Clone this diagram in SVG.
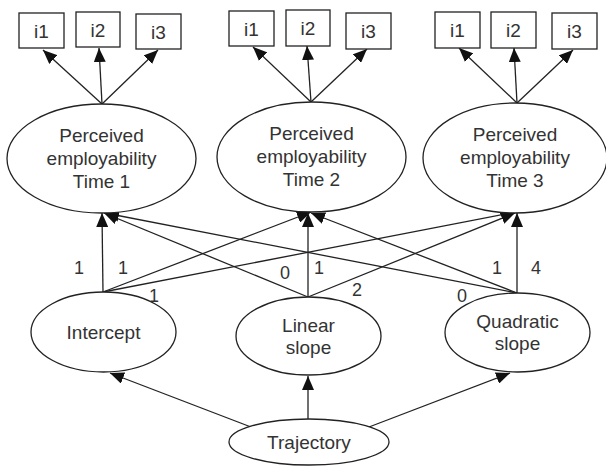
<svg xmlns="http://www.w3.org/2000/svg" width="606" height="466" viewBox="0 0 606 466">
<style>
.n{fill:#fff;stroke:#222;stroke-width:1.3}
.t{font-family:"Liberation Sans",Arial,sans-serif;font-size:19px;fill:#333;text-anchor:middle;dominant-baseline:central}
.l{font-family:"Liberation Sans",Arial,sans-serif;font-size:18px;fill:#333;text-anchor:middle;dominant-baseline:central}
.c line{stroke:#222;stroke-width:1.3;marker-end:url(#a)}
</style>
<defs>
<marker id="a" markerUnits="userSpaceOnUse" markerWidth="15" markerHeight="12" viewBox="0 0 15 12" refX="14" refY="6" orient="auto">
<path d="M0,0 L14,6 L0,12 Z" fill="#111"/>
</marker>
</defs>
<g class="c" id="connectors">
<line x1="102" y1="104" x2="43" y2="50"/>
<line x1="102" y1="104" x2="99" y2="48"/>
<line x1="102" y1="104" x2="158" y2="50"/>
<line x1="311" y1="102" x2="253" y2="47"/>
<line x1="311" y1="102" x2="307" y2="46"/>
<line x1="311" y1="102" x2="367" y2="49"/>
<line x1="517" y1="103" x2="459" y2="48"/>
<line x1="517" y1="103" x2="514" y2="48"/>
<line x1="517" y1="103" x2="573" y2="50"/>
<line x1="103" y1="292" x2="102" y2="213"/>
<line x1="103" y1="292" x2="311" y2="212"/>
<line x1="103" y1="292" x2="516" y2="212"/>
<line x1="308" y1="297" x2="104" y2="213"/>
<line x1="308" y1="297" x2="308" y2="213"/>
<line x1="308" y1="297" x2="515" y2="213"/>
<line x1="517" y1="293" x2="105" y2="213"/>
<line x1="517" y1="293" x2="311" y2="213"/>
<line x1="517" y1="293" x2="517" y2="213"/>
<line x1="251" y1="427" x2="110" y2="373"/>
<line x1="308" y1="420" x2="308" y2="376"/>
<line x1="369" y1="427" x2="510" y2="373"/>
</g>
<g id="box-1-i1"><rect class="n" x="19" y="13" width="45" height="35"/><text class="t" x="41.5" y="31">i1</text></g>
<g id="box-1-i2"><rect class="n" x="76" y="12" width="44" height="35"/><text class="t" x="98" y="30">i2</text></g>
<g id="box-1-i3"><rect class="n" x="136" y="14" width="45" height="35"/><text class="t" x="158.5" y="32">i3</text></g>
<g id="box-2-i1"><rect class="n" x="229" y="11" width="45" height="35"/><text class="t" x="251.5" y="29">i1</text></g>
<g id="box-2-i2"><rect class="n" x="286" y="10" width="44" height="36"/><text class="t" x="308" y="28">i2</text></g>
<g id="box-2-i3"><rect class="n" x="346" y="13" width="45" height="36"/><text class="t" x="368.5" y="31">i3</text></g>
<g id="box-3-i1"><rect class="n" x="435" y="12" width="45" height="36"/><text class="t" x="457.5" y="30">i1</text></g>
<g id="box-3-i2"><rect class="n" x="491" y="12" width="45" height="36"/><text class="t" x="513.5" y="30">i2</text></g>
<g id="box-3-i3"><rect class="n" x="552" y="13" width="45" height="36"/><text class="t" x="574.5" y="31">i3</text></g>
<g id="pe-time1"><ellipse class="n" cx="101.5" cy="158.5" rx="94.5" ry="54.5"/><text class="t" x="101.5" y="135">Perceived</text><text class="t" x="101.5" y="158">employability</text><text class="t" x="101.5" y="181">Time 1</text></g>
<g id="pe-time2"><ellipse class="n" cx="311.5" cy="157" rx="94.5" ry="55"/><text class="t" x="311.5" y="133">Perceived</text><text class="t" x="311.5" y="156">employability</text><text class="t" x="311.5" y="179">Time 2</text></g>
<g id="pe-time3"><ellipse class="n" cx="515" cy="158" rx="92" ry="55"/><text class="t" x="515" y="134">Perceived</text><text class="t" x="515" y="157">employability</text><text class="t" x="515" y="180">Time 3</text></g>
<g id="intercept"><ellipse class="n" cx="103.5" cy="332" rx="72.5" ry="40"/><text class="t" x="103.5" y="332">Intercept</text></g>
<g id="linear-slope"><ellipse class="n" cx="308.5" cy="336" rx="72.5" ry="39"/><text class="t" x="308.5" y="325">Linear</text><text class="t" x="308.5" y="347">slope</text></g>
<g id="quadratic-slope"><ellipse class="n" cx="517.5" cy="332.5" rx="72.5" ry="39.5"/><text class="t" x="517.5" y="321">Quadratic</text><text class="t" x="517.5" y="343">slope</text></g>
<g id="trajectory"><ellipse class="n" cx="309" cy="442" rx="80" ry="23"/><text class="t" x="309" y="442">Trajectory</text></g>
<g id="labels">
<text class="l" x="79" y="268">1</text>
<text class="l" x="123" y="268">1</text>
<text class="l" x="154" y="296">1</text>
<text class="l" x="285" y="273">0</text>
<text class="l" x="319" y="268">1</text>
<text class="l" x="357" y="290">2</text>
<text class="l" x="497" y="268">1</text>
<text class="l" x="536" y="268">4</text>
<text class="l" x="462" y="296">0</text>
</g>
</svg>
